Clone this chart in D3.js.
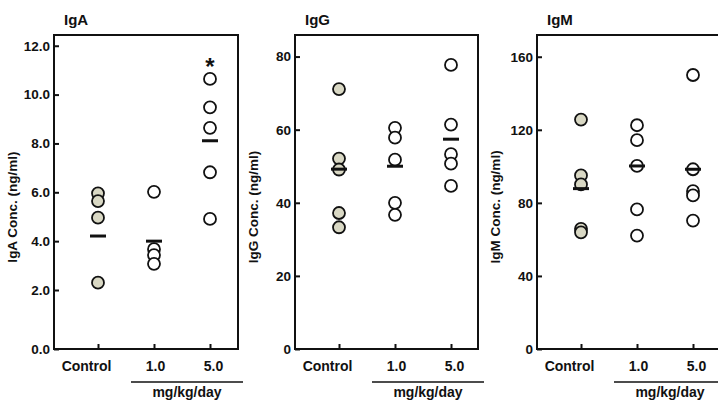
<!DOCTYPE html>
<html>
<head>
<meta charset="utf-8">
<script src="https://cdn.jsdelivr.net/npm/d3@7"></script>
<style>
  body { margin: 0; background: #fff; }
  svg text { font-family: "Liberation Sans", Arial, sans-serif; font-weight: bold; fill: #111; }
</style>
</head>
<body>
<div id="chart"></div>
<script>
const categories = ["Control", "1.0", "5.0"];

// individual animals per group
const igaValues = [
  [5.96, 5.64, 4.96, 2.3],
  [6.02, 3.67, 3.43, 3.07],
  [10.64, 9.48, 8.64, 6.82, 4.91],
];
const igaMeans = [4.21, 4.0, 8.11];
const igaTicks = [0, 2, 4, 6, 8, 10, 12];

const iggValues = [
  [71.1, 52.1, 49.1, 37.2, 33.3],
  [60.5, 57.8, 51.8, 40.0, 36.7],
  [77.7, 61.4, 53.3, 50.7, 44.6],
];
const iggMeans = [49.2, 50.0, 57.4];
const iggTicks = [0, 20, 40, 60, 80];

const igmValues = [
  [125.6, 95.0, 90.1, 65.8, 63.9],
  [122.5, 114.3, 100.2, 76.4, 62.1],
  [150.0, 98.4, 86.4, 84.1, 70.3],
];
const igmMeans = [87.8, 100.2, 98.4];
const igmTicks = [0, 40, 80, 120, 160];

const significant = [false, false, true]; // IgA 5.0 marked with *

const width = 718;
const height = 403;
const frameTop = 35;
const frameBottom = 349;

// category labels sit a little off their ticks in the original
const labelShift = { Control: -12, "1.0": 1, "5.0": 3 };

const svg = d3
  .select("#chart")
  .append("svg")
  .attr("width", width)
  .attr("height", height);

const panels = [
  {
    title: "IgA",
    left: 54,
    right: 238,
    values: igaValues,
    means: igaMeans,
    ticks: igaTicks,
    fmt: d3.format(".1f"),
    // the original axis has a longer 0-2 step than the rest
    y: d3.scaleLinear().domain([0, 2, 12.44]).range([frameBottom, 290, frameTop]),
    star: true,
  },
  {
    title: "IgG",
    left: 295,
    right: 478,
    values: iggValues,
    means: iggMeans,
    ticks: iggTicks,
    fmt: d3.format("d"),
    y: d3.scaleLinear().domain([0, 85.9]).range([frameBottom, frameTop]),
    star: false,
  },
  {
    title: "IgM",
    left: 537,
    right: 721,
    values: igmValues,
    means: igmMeans,
    ticks: igmTicks,
    fmt: d3.format("d"),
    y: d3.scaleLinear().domain([0, 171.9]).range([frameBottom, frameTop]),
    star: false,
  },
];

panels.forEach((p) => {
  const g = svg.append("g");
  const x = d3
    .scalePoint()
    .domain(categories)
    .range([p.left + 44, p.left + 156]);

  // frame
  g.append("rect")
    .attr("x", p.left)
    .attr("y", frameTop)
    .attr("width", p.right - p.left)
    .attr("height", frameBottom - frameTop)
    .attr("fill", "none")
    .attr("stroke", "#111")
    .attr("stroke-width", 2);

  // y axis
  const yAxis = d3
    .axisLeft(p.y)
    .tickValues(p.ticks)
    .tickFormat(p.fmt)
    .tickSizeInner(-5)
    .tickSizeOuter(0)
    .tickPadding(4);
  g.append("g")
    .attr("transform", `translate(${p.left},0)`)
    .call(yAxis)
    .call((a) => a.select(".domain").remove())
    .call((a) => a.selectAll("line").attr("stroke", "#111").attr("stroke-width", 2))
    .call((a) =>
      a.selectAll("text").attr("font-size", 13.5).attr("x", -4).attr("fill", "#111")
    );

  // x axis
  const xAxis = d3.axisBottom(x).tickSizeInner(-5).tickSizeOuter(0).tickPadding(12);
  g.append("g")
    .attr("transform", `translate(0,${frameBottom})`)
    .call(xAxis)
    .call((a) => a.select(".domain").remove())
    .call((a) => a.selectAll("line").attr("stroke", "#111").attr("stroke-width", 2))
    .call((a) =>
      a
        .selectAll("text")
        .attr("font-size", 14)
        .attr("fill", "#111")
        .attr("dx", (d) => labelShift[d])
    );

  // dose bracket
  g.append("line")
    .attr("x1", x("1.0") - 23)
    .attr("x2", x("5.0") + 33)
    .attr("y1", 382)
    .attr("y2", 382)
    .attr("stroke", "#111")
    .attr("stroke-width", 1.5);
  g.append("text")
    .attr("x", (x("1.0") - 23 + x("5.0") + 33) / 2)
    .attr("y", 397)
    .attr("text-anchor", "middle")
    .attr("font-size", 14)
    .text("mg/kg/day");

  // title
  g.append("text")
    .attr("x", p.left + 10)
    .attr("y", 25)
    .attr("font-size", 15)
    .text(p.title);

  // y label
  g.append("text")
    .attr("transform", `translate(${p.left - 37},207) rotate(-90)`)
    .attr("text-anchor", "middle")
    .attr("font-size", 13.5)
    .text(`${p.title} Conc. (ng/ml)`);

  // points
  p.values.forEach((vals, i) => {
    g.selectAll(null)
      .data(vals)
      .join("circle")
      .attr("cx", x(categories[i]))
      .attr("cy", (d) => p.y(d))
      .attr("r", 6)
      .attr("fill", i === 0 ? "#d9d8c4" : "#fff")
      .attr("stroke", "#111")
      .attr("stroke-width", 1.8);
  });

  // means
  g.selectAll(null)
    .data(p.means)
    .join("line")
    .attr("x1", (d, i) => x(categories[i]) - 8)
    .attr("x2", (d, i) => x(categories[i]) + 8)
    .attr("y1", (d) => p.y(d))
    .attr("y2", (d) => p.y(d))
    .attr("stroke", "#111")
    .attr("stroke-width", 3);

  if (p.star) {
    significant.forEach((s, i) => {
      if (!s) return;
      g.append("text")
        .attr("x", x(categories[i]))
        .attr("y", p.y(d3.max(p.values[i])) - 4)
        .attr("text-anchor", "middle")
        .attr("font-size", 24)
        .text("*");
    });
  }
});
</script>
</body>
</html>
